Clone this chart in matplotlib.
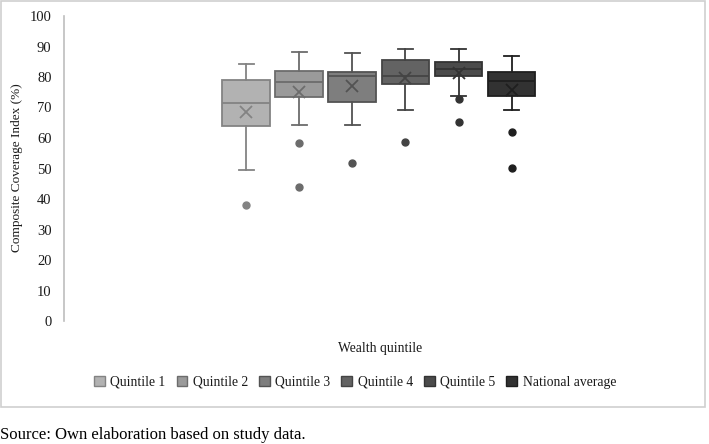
import matplotlib
matplotlib.use("Agg")
import matplotlib.pyplot as plt
from matplotlib.patches import Rectangle, Patch

plt.rcParams['font.family'] = ['Liberation Serif', 'DejaVu Serif']

# box statistics (composite coverage index, %)
groups = ['Quintile 1', 'Quintile 2', 'Quintile 3', 'Quintile 4', 'Quintile 5', 'National average']
whis_lo = [49.5, 64.3, 64.3, 69.1, 73.9, 69.1]
q1_vals = [64.0, 73.5, 71.8, 77.8, 80.4, 73.8]
medians = [71.5, 78.4, 80.3, 80.2, 82.5, 78.6]
q3_vals = [79.0, 82.0, 81.6, 85.7, 84.9, 81.6]
whis_hi = [84.3, 88.3, 87.9, 89.3, 89.3, 86.9]
means = [68.6, 75.2, 76.9, 79.8, 81.2, 75.7]
outliers = [[38.0], [58.4, 43.9], [51.8], [58.7], [72.7, 65.3], [62.0, 50.2]]

fills = ['#b2b2b2', '#9a9a9a', '#7e7e7e', '#636363', '#4b4b4b', '#323232']
edges = ['#838383', '#6c6c6c', '#535353', '#444444', '#333333', '#1f1f1f']

fig = plt.figure(figsize=(7.09, 4.44), dpi=100)
ax = fig.add_axes([64 / 709, 123 / 444, 626 / 709, 305 / 444])

for i in range(len(groups)):
    st = dict(whislo=whis_lo[i], q1=q1_vals[i], med=medians[i], q3=q3_vals[i],
              whishi=whis_hi[i], mean=means[i], fliers=outliers[i], label=groups[i])
    ec = edges[i]
    ax.bxp([st], positions=[i], widths=0.9, patch_artist=True, showmeans=True,
           boxprops=dict(facecolor=fills[i], edgecolor=ec, linewidth=1.3),
           medianprops=dict(color=ec, linewidth=1.3),
           whiskerprops=dict(color=ec, linewidth=1.3),
           capprops=dict(color=ec, linewidth=1.3),
           capwidths=0.28,
           meanprops=dict(marker='x', markersize=8, markeredgecolor=ec,
                          markeredgewidth=1.3),
           flierprops=dict(marker='o', markersize=5, markerfacecolor=ec,
                           markeredgecolor=ec))

ax.set_xlim(-3.43, 8.36)
ax.set_ylim(0, 100)
ax.set_yticks(range(0, 101, 10))
ax.set_xticks([])
ax.tick_params(axis='y', length=0, pad=9, labelsize=10.5, labelcolor='#1a1a1a')
for s in ['top', 'right', 'bottom']:
    ax.spines[s].set_visible(False)
ax.spines['left'].set_color('#bdbdbd')
ax.spines['left'].set_linewidth(1.2)

fig.text(17 / 709, 1 - 168 / 444, 'Composite Coverage Index (%)', rotation=90,
         ha='center', va='center', fontsize=9.5, color='#1a1a1a')
fig.text(380 / 709, 1 - 348 / 444, 'Wealth quintile', ha='center', va='center',
         fontsize=9.8, color='#1a1a1a')

handles = [Patch(facecolor=fills[i], edgecolor=edges[i], label=groups[i])
           for i in range(len(groups))]
fig.legend(handles=handles, loc='center', bbox_to_anchor=(355 / 709, 1 - 382 / 444),
           ncol=6, frameon=False, fontsize=9.8, handlelength=0.8, handleheight=0.8,
           handletextpad=0.4, columnspacing=0.8, labelcolor='#1a1a1a')

# outer frame around the chart area
fig.patches.append(Rectangle((1 / 709, 1 - 407 / 444), 704 / 709, 406 / 444,
                             transform=fig.transFigure, fill=False,
                             edgecolor='#cfcfcf', linewidth=1.2))

fig.text(0, 1 - 435 / 444, 'Source: Own elaboration based on study data.',
         ha='left', va='center', fontsize=12, color='black')

fig.savefig('out.png', dpi=100)
